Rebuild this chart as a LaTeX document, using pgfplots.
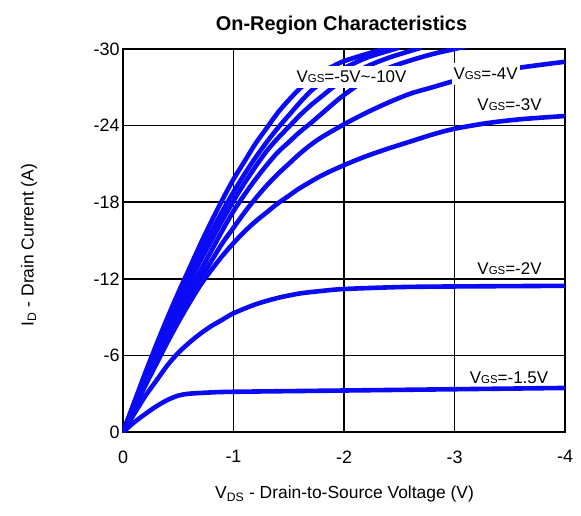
\documentclass[border=0pt]{standalone}
\usepackage{pgfplots}
\pgfplotsset{compat=1.18}
\usepackage{fontspec}
\setmainfont{Liberation Sans}

\begin{document}
\begin{tikzpicture}[x=1bp,y=1bp]
\path[use as bounding box] (0,0) rectangle (581,516);
\begin{axis}[
  at={(123bp,84bp)}, anchor=south west,
  scale only axis, width=442bp, height=383bp,
  xmin=-4, xmax=0, ymin=-30, ymax=0,
  x dir=reverse, y dir=reverse,
  xtick={0,-1,-2,-3,-4}, ytick={0,-6,-12,-18,-24,-30},
  grid=major, major grid style={black, line width=1.6bp},
  axis line style={black, line width=1.8bp},
  major tick length=0pt,
  tick label style={font=\fontsize{18}{20}\selectfont, black},
  /pgf/number format/assume math mode=true,
  xticklabel style={yshift=-15bp},
  curve/.style={color={rgb,255:red,10;green,10;blue,245}, line width=4.6bp, smooth, mark=none, solid},
]
% VGS = -10 V
\addplot[curve] coordinates {(0,0) (-0.1,-2.3) (-0.2,-4.6) (-0.3,-6.8) (-0.4,-8.9) (-0.5,-10.9) (-0.6,-12.8) (-0.7,-14.7) (-0.8,-16.5) (-0.9,-18.2) (-1.0,-19.8) (-1.1,-21.2) (-1.2,-22.6) (-1.3,-23.8) (-1.4,-25.0) (-1.5,-26.0) (-1.6,-26.9) (-1.7,-27.6) (-1.8,-28.2) (-1.9,-28.65) (-2.0,-29.05) (-2.2,-29.6) (-2.4,-30.1)};
% VGS = -8 V
\addplot[curve] coordinates {(0,0) (-0.1,-2.2) (-0.2,-4.4) (-0.3,-6.5) (-0.4,-8.5) (-0.5,-10.4) (-0.6,-12.2) (-0.7,-14.0) (-0.8,-15.7) (-0.9,-17.3) (-1.0,-18.8) (-1.1,-20.2) (-1.2,-21.5) (-1.3,-22.7) (-1.4,-23.8) (-1.5,-24.8) (-1.6,-25.8) (-1.7,-26.7) (-1.8,-27.4) (-1.9,-28.0) (-2.0,-28.5) (-2.2,-29.3) (-2.4,-29.85) (-2.5,-30.1)};
% VGS = -6 V
\addplot[curve] coordinates {(0,0) (-0.1,-2.1) (-0.2,-4.2) (-0.3,-6.2) (-0.4,-8.1) (-0.5,-10.0) (-0.6,-11.7) (-0.7,-13.4) (-0.8,-15.0) (-0.9,-16.6) (-1.0,-18.1) (-1.1,-19.5) (-1.2,-20.8) (-1.3,-22.0) (-1.4,-23.0) (-1.5,-23.9) (-1.6,-24.8) (-1.7,-25.6) (-1.8,-26.3) (-1.9,-27.0) (-2.0,-27.6) (-2.2,-28.6) (-2.4,-29.3) (-2.6,-29.85) (-2.7,-30.1)};
% VGS = -5 V
\addplot[curve] coordinates {(0,0) (-0.1,-2.0) (-0.2,-4.0) (-0.3,-5.9) (-0.4,-7.7) (-0.5,-9.4) (-0.6,-11.0) (-0.7,-12.6) (-0.8,-14.2) (-0.9,-15.8) (-1.0,-17.3) (-1.1,-18.6) (-1.2,-19.8) (-1.3,-20.9) (-1.4,-21.9) (-1.5,-22.7) (-1.6,-23.5) (-1.7,-24.2) (-1.8,-24.95) (-1.9,-25.7) (-2.0,-26.4) (-2.2,-27.6) (-2.4,-28.5) (-2.6,-29.1) (-2.8,-29.6) (-3.0,-30.0) (-3.1,-30.2)};
% VGS = -4 V
\addplot[curve] coordinates {(0,0) (-0.1,-1.9) (-0.2,-3.8) (-0.3,-5.6) (-0.4,-7.3) (-0.5,-8.9) (-0.6,-10.5) (-0.7,-12.0) (-0.8,-13.4) (-0.9,-14.8) (-1.0,-16.0) (-1.1,-17.2) (-1.2,-18.3) (-1.3,-19.3) (-1.4,-20.2) (-1.5,-21.0) (-1.6,-21.8) (-1.7,-22.5) (-1.8,-23.1) (-2.0,-24.1) (-2.2,-25.0) (-2.4,-25.8) (-2.6,-26.5) (-2.8,-27.0) (-3.0,-27.5) (-3.3,-28.1) (-3.6,-28.55) (-4.0,-29.0)};
% VGS = -3 V
\addplot[curve] coordinates {(0,0) (-0.1,-1.8) (-0.2,-3.6) (-0.3,-5.3) (-0.4,-7.0) (-0.5,-8.6) (-0.6,-10.1) (-0.7,-11.5) (-0.8,-12.7) (-0.9,-13.8) (-1.0,-14.8) (-1.1,-15.7) (-1.2,-16.5) (-1.3,-17.2) (-1.4,-17.9) (-1.5,-18.5) (-1.6,-19.1) (-1.8,-20.1) (-2.0,-20.9) (-2.2,-21.6) (-2.4,-22.2) (-2.6,-22.75) (-2.8,-23.3) (-3.0,-23.75) (-3.3,-24.2) (-3.6,-24.5) (-4.0,-24.75)};
% VGS = -2 V
\addplot[curve] coordinates {(0,0) (-0.1,-1.4) (-0.2,-2.8) (-0.3,-4.0) (-0.4,-5.2) (-0.5,-6.2) (-0.6,-7.0) (-0.7,-7.7) (-0.8,-8.3) (-0.9,-8.8) (-1.0,-9.3) (-1.2,-10.0) (-1.4,-10.5) (-1.6,-10.85) (-1.8,-11.05) (-2.0,-11.2) (-2.5,-11.35) (-3.0,-11.4) (-4.0,-11.45)};
% VGS = -1.5 V
\addplot[curve] coordinates {(0,0) (-0.1,-0.75) (-0.2,-1.4) (-0.3,-2.0) (-0.4,-2.5) (-0.5,-2.85) (-0.6,-3.0) (-0.8,-3.1) (-1.0,-3.15) (-2.0,-3.25) (-3.0,-3.35) (-4.0,-3.45)};

\coordinate (L1) at (axis cs:-2.068,-27.84);
\coordinate (L2) at (axis cs:-3.281,-28.03);
\coordinate (L3) at (axis cs:-3.498,-25.61);
\coordinate (L4) at (axis cs:-3.498,-12.76);
\coordinate (L5) at (axis cs:-3.493,-4.27);
\end{axis}
\node[fill=white, inner xsep=3bp, inner ysep=5bp, font=\fontsize{17}{17}\selectfont] at (L1) {V{\fontsize{11.5}{12}\selectfont GS}=-5V\textasciitilde-10V};
\node[fill=white, inner xsep=2bp, inner ysep=5bp, font=\fontsize{17}{17}\selectfont] at (L2) {V{\fontsize{11.5}{12}\selectfont GS}=-4V};
\node[inner sep=1bp, font=\fontsize{17}{17}\selectfont] at (L3) {V{\fontsize{11.5}{12}\selectfont GS}=-3V};
\node[inner sep=1bp, font=\fontsize{17}{17}\selectfont] at (L4) {V{\fontsize{11.5}{12}\selectfont GS}=-2V};
\node[inner sep=1bp, font=\fontsize{17}{17}\selectfont] at (L5) {V{\fontsize{11.5}{12}\selectfont GS}=-1.5V};
\node[anchor=base, inner sep=0pt, font=\bfseries\fontsize{20}{24}\selectfont] at (341.5,485.6) {On-Region Characteristics};
\node[anchor=base, inner sep=0pt, font=\fontsize{17.5}{20}\selectfont] at (344.5,17.5) {V\textsubscript{DS} - Drain-to-Source Voltage (V)};
\node[rotate=90, inner sep=0pt, font=\fontsize{17.5}{20}\selectfont] at (29,271) {I\textsubscript{D} - Drain Current (A)};
\end{tikzpicture}
\end{document}
